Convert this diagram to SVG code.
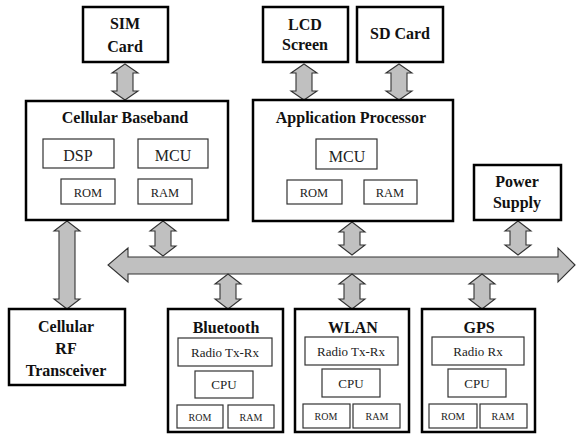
<svg xmlns="http://www.w3.org/2000/svg" width="576" height="434" viewBox="0 0 576 434">
<style>
.outer{fill:#fff;stroke:#000;stroke-width:2.5}
.inner{fill:#fff;stroke:#333;stroke-width:1.2}
.arr{fill:#c0c0c0;stroke:#333;stroke-width:1.1;stroke-linejoin:miter}
.t{font-family:'Liberation Serif','DejaVu Serif',serif;font-weight:bold;font-size:16px;fill:#111;text-anchor:middle}
.s{font-family:'Liberation Serif','DejaVu Serif',serif;fill:#222;text-anchor:middle}
</style>
<rect width="576" height="434" fill="#fff"/>
<g id="connectors">
<path class="arr" d="M575,265 L558,248 L558,257 L128,257 L128,248 L108,265 L128,282 L128,274 L558,274 L558,282 Z"/>
<path class="arr" d="M125,64 L138,73 L133,73 L133,91 L138,91 L125,100 L112,91 L117,91 L117,73 L112,73 Z"/>
<path class="arr" d="M304,64 L317,73 L312,73 L312,91 L317,91 L304,100 L291,91 L296,91 L296,73 L291,73 Z"/>
<path class="arr" d="M399,64 L412,73 L407,73 L407,91 L412,91 L399,100 L386,91 L391,91 L391,73 L386,73 Z"/>
<path class="arr" d="M67,221 L80,231 L75,231 L75,299 L80,299 L67,309 L54,299 L59,299 L59,231 L54,231 Z"/>
<path class="arr" d="M163,221 L176,231 L171,231 L171,246 L176,246 L163,256 L150,246 L155,246 L155,231 L150,231 Z"/>
<path class="arr" d="M352,222 L365,232 L360,232 L360,245 L365,245 L352,255 L339,245 L344,245 L344,232 L339,232 Z"/>
<path class="arr" d="M518,221 L531,231 L526,231 L526,245 L531,245 L518,255 L505,245 L510,245 L510,231 L505,231 Z"/>
<path class="arr" d="M228,274 L241,284 L236,284 L236,299 L241,299 L228,309 L215,299 L220,299 L220,284 L215,284 Z"/>
<path class="arr" d="M352,274 L365,284 L360,284 L360,299 L365,299 L352,309 L339,299 L344,299 L344,284 L339,284 Z"/>
<path class="arr" d="M482,274 L495,284 L490,284 L490,299 L495,299 L482,309 L469,299 L474,299 L474,284 L469,284 Z"/>
</g>
<g id="sim">
<rect class="outer" x="83" y="7" width="85" height="55"/>
<text class="t" x="125" y="29">SIM</text>
<text class="t" x="125" y="52">Card</text>
</g>
<g id="baseband">
<rect class="outer" x="26" y="101" width="202" height="119"/>
<text class="t" x="125" y="123">Cellular Baseband</text>
<rect class="inner" x="43" y="139" width="71" height="29"/>
<text class="s" x="78" y="161" font-size="16">DSP</text>
<rect class="inner" x="138" y="139" width="70" height="29"/>
<text class="s" x="173" y="161" font-size="16">MCU</text>
<rect class="inner" x="61" y="179" width="54" height="25"/>
<text class="s" x="88" y="197" font-size="12.5">ROM</text>
<rect class="inner" x="138" y="179" width="54" height="25"/>
<text class="s" x="165" y="197" font-size="12.5">RAM</text>
</g>
<g id="lcd">
<rect class="outer" x="263" y="7" width="85" height="55"/>
<text class="t" x="305" y="30">LCD</text>
<text class="t" x="305" y="50">Screen</text>
</g>
<g id="sdcard">
<rect class="outer" x="357" y="7" width="86" height="55"/>
<text class="t" x="400" y="39">SD Card</text>
</g>
<g id="appproc">
<rect class="outer" x="253" y="100" width="200" height="121"/>
<text class="t" x="351" y="123">Application Processor</text>
<rect class="inner" x="316" y="139" width="61" height="30"/>
<text class="s" x="347" y="162" font-size="16">MCU</text>
<rect class="inner" x="287" y="180" width="55" height="24"/>
<text class="s" x="314" y="197" font-size="12.5">ROM</text>
<rect class="inner" x="364" y="180" width="53" height="24"/>
<text class="s" x="390" y="197" font-size="12.5">RAM</text>
</g>
<g id="power">
<rect class="outer" x="474" y="165" width="87" height="55"/>
<text class="t" x="517" y="187">Power</text>
<text class="t" x="517" y="208">Supply</text>
</g>
<g id="rf">
<rect class="outer" x="9" y="309" width="116" height="76"/>
<text class="t" x="66" y="332">Cellular</text>
<text class="t" x="66" y="354">RF</text>
<text class="t" x="66" y="376">Transceiver</text>
</g>
<g id="bluetooth">
<rect class="outer" x="168" y="309" width="115" height="123"/>
<text class="t" x="226" y="333">Bluetooth</text>
<rect class="inner" x="178" y="338" width="94" height="28"/>
<text class="s" x="225" y="357" font-size="13">Radio Tx-Rx</text>
<rect class="inner" x="195" y="371" width="58" height="27"/>
<text class="s" x="224" y="389" font-size="13">CPU</text>
<rect class="inner" x="177" y="405" width="46" height="23"/>
<text class="s" x="200" y="421" font-size="10">ROM</text>
<rect class="inner" x="228" y="405" width="46" height="23"/>
<text class="s" x="251" y="421" font-size="10">RAM</text>
</g>
<g id="wlan">
<rect class="outer" x="295" y="309" width="114" height="123"/>
<text class="t" x="353" y="333">WLAN</text>
<rect class="inner" x="305" y="337" width="93" height="28"/>
<text class="s" x="351" y="356" font-size="13">Radio Tx-Rx</text>
<rect class="inner" x="322" y="369" width="58" height="28"/>
<text class="s" x="351" y="388" font-size="13">CPU</text>
<rect class="inner" x="303" y="404" width="47" height="24"/>
<text class="s" x="326" y="420" font-size="10">ROM</text>
<rect class="inner" x="353" y="404" width="47" height="24"/>
<text class="s" x="377" y="420" font-size="10">RAM</text>
</g>
<g id="gps">
<rect class="outer" x="422" y="309" width="113" height="123"/>
<text class="t" x="479" y="333">GPS</text>
<rect class="inner" x="432" y="337" width="92" height="28"/>
<text class="s" x="478" y="356" font-size="13">Radio Rx</text>
<rect class="inner" x="448" y="369" width="58" height="28"/>
<text class="s" x="477" y="388" font-size="13">CPU</text>
<rect class="inner" x="429" y="404" width="48" height="24"/>
<text class="s" x="453" y="420" font-size="10.5">ROM</text>
<rect class="inner" x="480" y="404" width="47" height="24"/>
<text class="s" x="503" y="420" font-size="10">RAM</text>
</g>
</svg>
